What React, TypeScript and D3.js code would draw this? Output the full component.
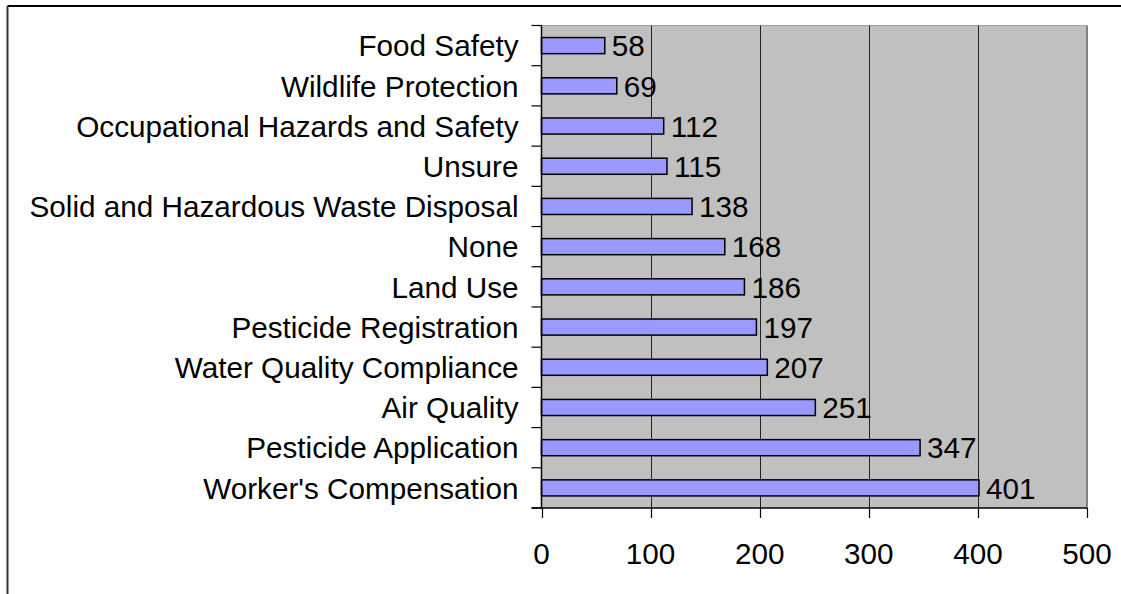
import React from "react";
import * as d3 from "d3";

const categories = [
  "Food Safety",
  "Wildlife Protection",
  "Occupational Hazards and Safety",
  "Unsure",
  "Solid and Hazardous Waste Disposal",
  "None",
  "Land Use",
  "Pesticide Registration",
  "Water Quality Compliance",
  "Air Quality",
  "Pesticide Application",
  "Worker's Compensation",
];
const values = [58, 69, 112, 115, 138, 168, 186, 197, 207, 251, 347, 401];
const xTicks = [0, 100, 200, 300, 400, 500];

const W = 1121;
const H = 594;
const plot = { left: 541.5, right: 1087, top: 25.5, bottom: 508 };
const FONT = "'Liberation Sans', Arial, sans-serif";
const FS = 29.7;

export default function App() {
  const x = d3.scaleLinear().domain([0, 500]).range([plot.left, plot.right]);
  const y = d3
    .scaleBand<string>()
    .domain(categories)
    .range([plot.top, plot.bottom])
    .paddingInner(0.6)
    .paddingOuter(0.3);
  const band = d3.scaleBand<string>().domain(categories).range([plot.top, plot.bottom]);

  return (
    <svg
      width={W}
      height={H}
      style={{ position: "absolute", left: 0, top: 0, fontFamily: FONT }}
    >
      <rect x={0} y={0} width={W} height={H} fill="#ffffff" />
      {/* outer chart border */}
      <line x1={7.5} y1={6} x2={W} y2={6} stroke="#000" strokeWidth={2} />
      <line x1={7.5} y1={6} x2={7.5} y2={H} stroke="#333" strokeWidth={2} />

      {/* plot area */}
      <rect
        x={plot.left}
        y={plot.top}
        width={plot.right - plot.left}
        height={plot.bottom - plot.top}
        fill="#c0c0c0"
      />
      <line x1={plot.left} y1={plot.top} x2={plot.right} y2={plot.top} stroke="#a0a0a0" strokeWidth={1} />
      <line x1={plot.right} y1={plot.top} x2={plot.right} y2={plot.bottom} stroke="#808080" strokeWidth={2} />

      {/* gridlines */}
      {xTicks.slice(1, -1).map((t) => (
        <line
          key={"g" + t}
          x1={Math.round(x(t)) + 0.5}
          x2={Math.round(x(t)) + 0.5}
          y1={plot.top}
          y2={plot.bottom}
          stroke="#222"
          strokeWidth={1}
        />
      ))}

      {/* bars */}
      {categories.map((c, i) => (
        <rect
          key={"b" + c}
          x={x(0)}
          y={y(c)!}
          width={x(values[i]) - x(0)}
          height={y.bandwidth()}
          fill="#9999ff"
          stroke="#000"
          strokeWidth={1.5}
        />
      ))}

      {/* value labels */}
      {categories.map((c, i) => (
        <text
          key={"v" + c}
          x={x(values[i]) + 7}
          y={y(c)! + y.bandwidth() / 2}
          dy="0.36em"
          fontSize={FS}
          fill="#000"
        >
          {values[i]}
        </text>
      ))}

      {/* y axis */}
      <line x1={plot.left} y1={plot.top} x2={plot.left} y2={plot.bottom + 1} stroke="#000" strokeWidth={1.5} />
      {[...categories.map((c) => band(c)!), plot.bottom].map((yy, i) => (
        <line key={"yt" + i} x1={plot.left - 10} x2={plot.left} y1={yy} y2={yy} stroke="#000" strokeWidth={1.2} />
      ))}
      {categories.map((c) => (
        <text
          key={"c" + c}
          x={plot.left - 23}
          y={band(c)! + band.bandwidth() / 2}
          dy="0.36em"
          textAnchor="end"
          fontSize={FS}
          fill="#000"
        >
          {c}
        </text>
      ))}

      {/* x axis */}
      <line x1={plot.left - 10} y1={plot.bottom} x2={plot.right} y2={plot.bottom} stroke="#000" strokeWidth={1.5} />
      {xTicks.map((t) => (
        <line
          key={"xt" + t}
          x1={Math.round(x(t)) + 0.5}
          x2={Math.round(x(t)) + 0.5}
          y1={plot.bottom}
          y2={plot.bottom + 10}
          stroke="#000"
          strokeWidth={1.2}
        />
      ))}
      {xTicks.map((t) => (
        <text
          key={"xl" + t}
          x={x(t)}
          y={553}
          dy="0.36em"
          textAnchor="middle"
          fontSize={FS}
          fill="#000"
        >
          {t}
        </text>
      ))}
    </svg>
  );
}
